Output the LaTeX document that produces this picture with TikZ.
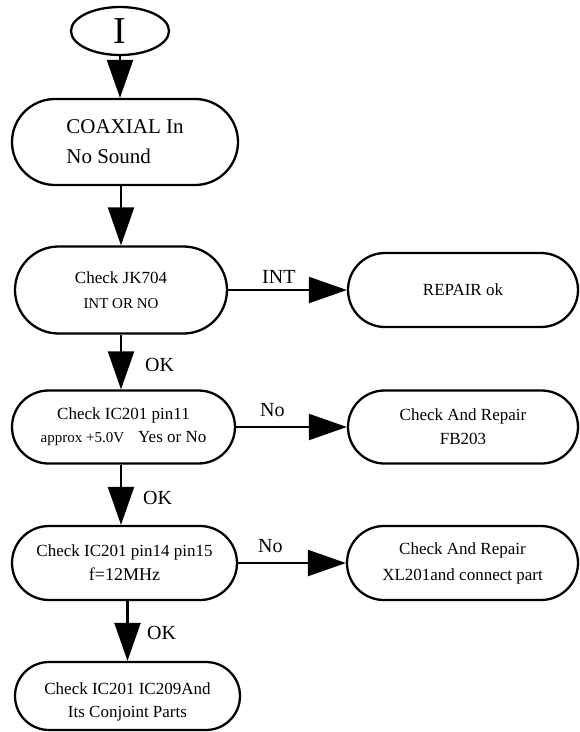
\documentclass[tikz,border=0pt]{standalone}
\usepackage{fontspec}
\setmainfont{Liberation Serif}
\usetikzlibrary{shapes.misc,shapes.geometric,arrows.meta}
\newcommand{\fsz}[2]{\fontsize{#1}{#2}\selectfont}
\begin{document}
\begin{tikzpicture}[x=1pt,y=-1pt,
  stadium/.style={rounded rectangle, draw, line width=2.3pt, inner sep=0pt, align=center},
  arr/.style={line width=2.3pt, -{Triangle[length=38pt,width=26pt]}},
  lbl/.style={anchor=base west, inner sep=0pt, font=\fsz{20}{24}}]
\useasboundingbox (0,0) rectangle (580,732);

\node[ellipse, draw, line width=2.3pt, inner sep=0pt, minimum width=98pt, minimum height=48pt, font=\fsz{38}{40}] (ell) at (120,31) {I};

\node[stadium, align=left, minimum width=226pt, minimum height=86pt, font=\fsz{21}{30}] (b1) at (125,142) {COAXIAL In\\No Sound};

\node[stadium, minimum width=212pt, minimum height=87pt, font=\fsz{17}{25}] (b2) at (121,290) {Check JK704\\{\fsz{15}{25}INT OR NO}};

\node[stadium, minimum width=230pt, minimum height=74pt, font=\fsz{17}{24}] (rep) at (463,290) {REPAIR ok};

\node[stadium, minimum width=223pt, minimum height=73pt, font=\fsz{17}{23}] (b3) at (123.5,427) {Check IC201 pin11\\{\fsz{15}{23}approx +5.0V}\hspace{14pt}Yes or No};

\node[stadium, minimum width=230pt, minimum height=73pt, font=\fsz{17}{24}] (fb) at (463,427) {Check And Repair\\FB203};

\node[stadium, minimum width=225pt, minimum height=74pt, font=\fsz{17}{24}] (b4) at (124.5,563) {Check IC201 pin14 pin15\\{\fsz{18}{24}f=12MHz}};

\node[stadium, minimum width=231pt, minimum height=74pt, font=\fsz{17}{26}] (xl) at (462.5,563) {Check And Repair\\XL201and connect part};

\node[stadium, minimum width=225pt, minimum height=68pt, font=\fsz{17}{23}] (b5) at (127.5,696) {\rule{0pt}{24pt}Check IC201 IC209And\\Its Conjoint Parts};

% vertical connectors
\draw[arr] (ell.south) -- (ell.south |- b1.north);
\draw[arr] (b1.south -| b2.north) -- (b2.north);
\draw[arr] (b2.south) -- (b2.south |- b3.north);
\draw[arr] (b3.south -| b2.south) -- (b2.south |- b4.north);
\draw[arr] (b4.south -| b5.north) -- (b5.north);

% horizontal connectors
\draw[arr] (b2.east) -- (rep.west);
\draw[arr] (b3.east) -- (fb.west);
\draw[arr] (b4.east) -- (xl.west);

% labels
\node[lbl] (lint) at (262,283) {INT};
\node[lbl] (lno1) at (260,416) {No};
\node[lbl] (lno2) at (258,552) {No};
\node[lbl] (lok1) at (145,371) {OK};
\node[lbl] (lok2) at (143,504) {OK};
\node[lbl] (lok3) at (147,639) {OK};
\end{tikzpicture}
\end{document}
